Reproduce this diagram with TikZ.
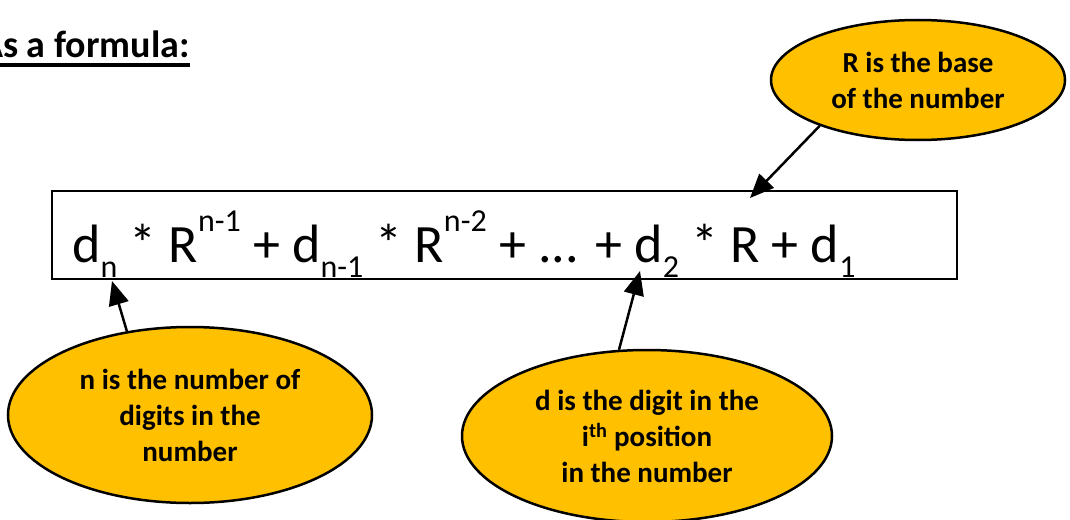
\documentclass[tikz,border=0pt]{standalone}
\usepackage{fontspec}
\setmainfont{Carlito}
\usetikzlibrary{arrows.meta,shapes.geometric}
\definecolor{gold}{HTML}{FFC000}
\newcommand{\lo}[1]{\raisebox{-15pt}{\fontsize{32}{32}\selectfont #1}}
\newcommand{\hi}[1]{\raisebox{31pt}{\fontsize{32}{32}\selectfont #1}}
\tikzset{
  bubble/.style={ellipse, draw=black, line width=2.5pt, fill=gold, inner sep=0pt,
    align=center, font=\fontsize{29}{36}\selectfont\bfseries},
  arr/.style={line width=2.5pt, -{Triangle[length=24pt,width=20pt]}},
}
\begin{document}
\begin{tikzpicture}[x=1pt,y=-1pt]
\useasboundingbox (0,0) rectangle (1070,519);
% title
\node[inner sep=0pt, anchor=base west, font=\fontsize{38}{42}\selectfont\bfseries] (title) at (-20,58) {As a formula:};
\draw[line width=3pt] ([yshift=-7pt]title.base west) -- ([yshift=-7pt]title.base east);
% formula box
\node[draw=black, line width=2.5pt, minimum width=905pt, minimum height=88pt, inner sep=0pt] (box) at (504.5,235) {};
\node[inner sep=0pt, anchor=base west, font=\fontsize{54}{60}\selectfont] (formula) at (72,262)
  {d\lo{n} * R\hi{n-1} + d\lo{n-1} * R\hi{n-2} + ... + d\lo{2} * R + d\lo{1}};
% bubbles
\node[bubble, minimum width=294pt, minimum height=120pt] (rb) at (918,80) {R is the base\\of the number};
\node[bubble, minimum width=364pt, minimum height=176pt] (nb) at (190,415) {n is the number of\\digits in the\\number};
\node[bubble, minimum width=370pt, minimum height=172pt] (db) at (647,436) {d is the digit in the\\i\textsuperscript{th} position\\in the number};
% arrow tips
\coordinate (tipR) at (750,198);
\coordinate (tipN) at (112,281);
\coordinate (tipD) at (640,271);
\draw[arr] (rb.205) -- (tipR);
\draw[arr] (nb.127) -- (tipN);
\draw[arr] (db.108) -- (tipD);
\end{tikzpicture}
\end{document}
